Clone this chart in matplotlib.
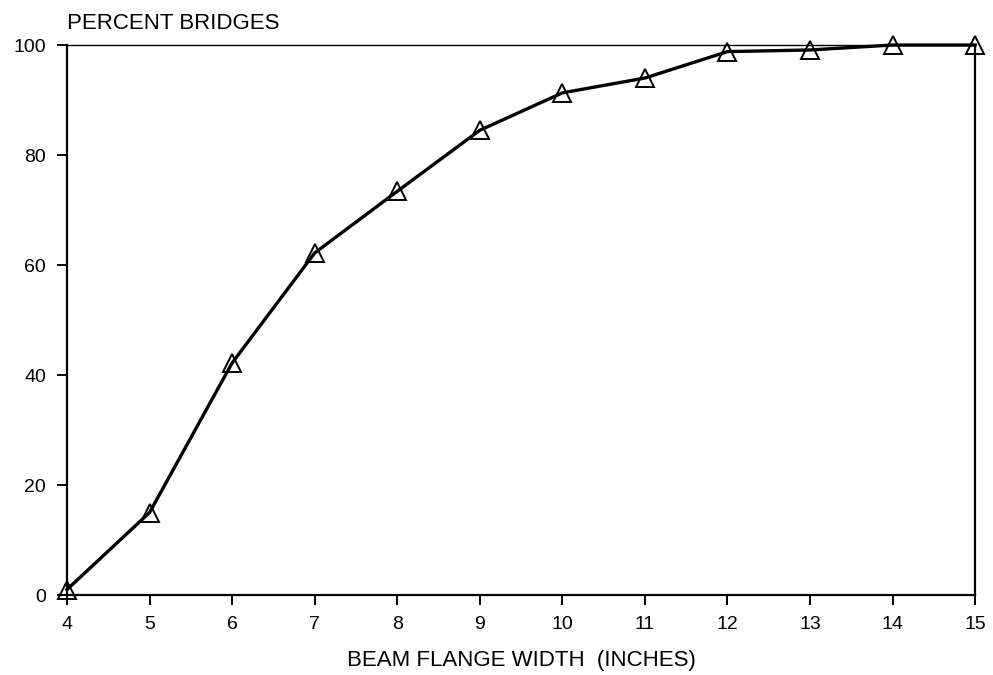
import matplotlib
matplotlib.use("Agg")
import matplotlib.pyplot as plt

width_in = [4, 5, 6, 7, 8, 9, 10, 11, 12, 13, 14, 15]
percent = [1, 15, 42.2, 62.2, 73.4, 84.5, 91.3, 94.0, 98.8, 99.1, 100, 100]
xticks = list(range(4, 16))
yticks = [0, 20, 40, 60, 80, 100]

plt.rcParams['font.family'] = ['Liberation Sans', 'DejaVu Sans']
fig = plt.figure(figsize=(9.93, 6.75), dpi=100)
ax = fig.add_axes([0.0675, 0.1185, 0.9145, 0.8148])
ax.plot(width_in, percent, color='black', lw=2.4, marker='^', ms=13.5,
        mfc='none', mec='black', mew=1.4, clip_on=False, zorder=3)
ax.set_xlim(4, 15)
ax.set_ylim(0, 100)
ax.set_xticks(xticks)
ax.set_yticks(yticks)
ax.tick_params(direction='out', length=7, width=1.4, labelsize=14, pad=8)
for s in ax.spines.values():
    s.set_linewidth(1.6)
ax.spines['top'].set_linewidth(1.0)
ax.set_xlabel('BEAM FLANGE WIDTH  (INCHES)', fontsize=16, labelpad=12)
fig.text(0.0675, 0.965, 'PERCENT BRIDGES', fontsize=16, ha='left', va='center')
fig.savefig('out.png', dpi=100)
